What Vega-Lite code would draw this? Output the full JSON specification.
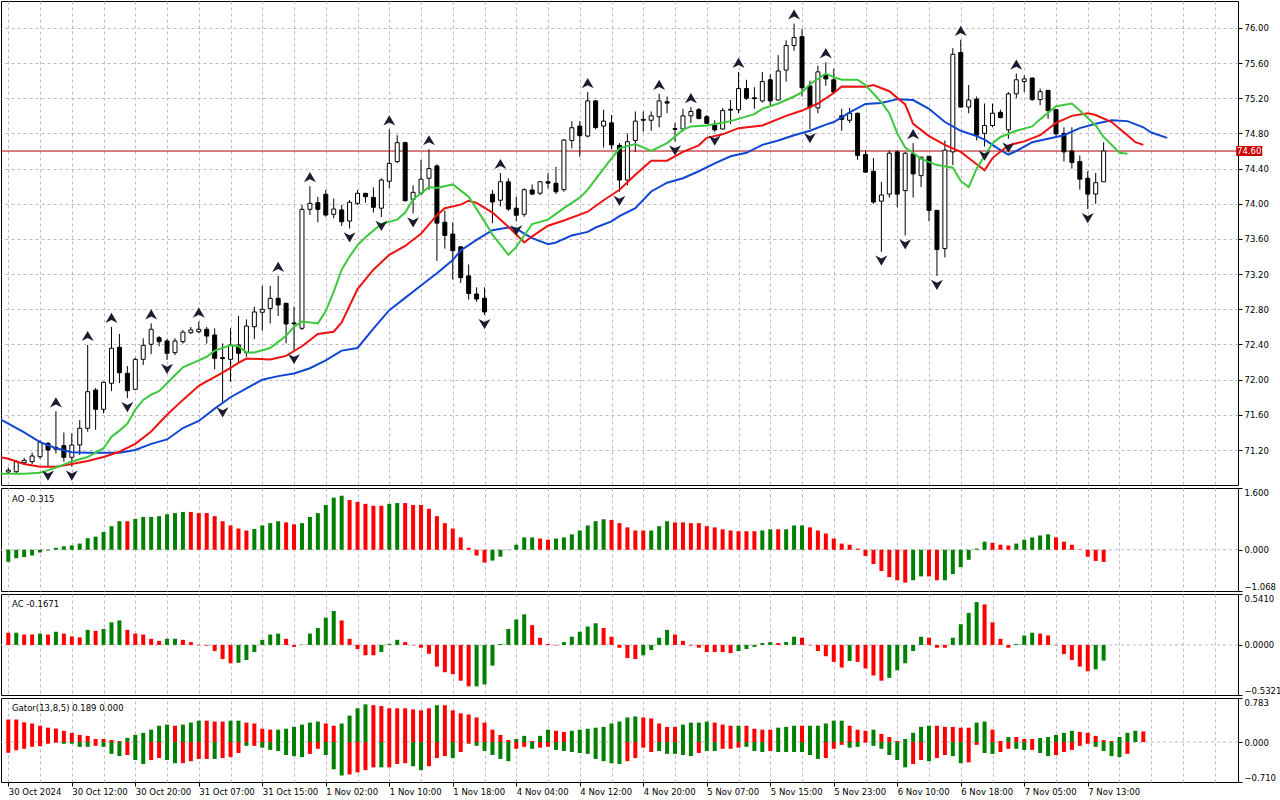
{
  "$schema": "https://vega.github.io/schema/vega-lite/v6.json",
  "padding": {"left": 0, "top": 0, "right": 0, "bottom": 0},
  "background": "white",
  "spacing": 1,
  "resolve": {"scale": {"color": "independent"}},
  "datasets": {
    "bars": [
      {"i":0,"o":70.95,"h":71.0,"l":70.93,"c":70.97},
      {"i":1,"o":70.953,"h":71.086,"l":70.93,"c":71.067},
      {"i":2,"o":71.056,"h":71.11,"l":71.03,"c":71.083},
      {"i":3,"o":71.067,"h":71.17,"l":71.04,"c":71.132},
      {"i":4,"o":71.124,"h":71.31,"l":71.1,"c":71.288},
      {"i":5,"o":71.276,"h":71.29,"l":71.01,"c":71.2,"f":"d"},
      {"i":6,"o":71.23,"h":71.64,"l":71.16,"c":71.21,"f":"u"},
      {"i":7,"o":71.249,"h":71.4,"l":71.067,"c":71.117},
      {"i":8,"o":71.117,"h":71.39,"l":71.01,"c":71.257,"f":"d"},
      {"i":9,"o":71.257,"h":71.54,"l":71.143,"c":71.447},
      {"i":10,"o":71.447,"h":72.394,"l":71.41,"c":71.863,"f":"u"},
      {"i":11,"o":71.882,"h":71.905,"l":71.43,"c":71.663},
      {"i":12,"o":71.663,"h":71.977,"l":71.617,"c":71.97},
      {"i":13,"o":71.959,"h":72.6,"l":71.87,"c":72.357,"f":"u"},
      {"i":14,"o":72.368,"h":72.52,"l":71.96,"c":72.079},
      {"i":15,"o":72.072,"h":72.155,"l":71.79,"c":71.874,"f":"d"},
      {"i":16,"o":71.89,"h":72.25,"l":71.88,"c":72.231},
      {"i":17,"o":72.231,"h":72.47,"l":72.167,"c":72.39},
      {"i":18,"o":72.402,"h":72.64,"l":72.29,"c":72.573,"f":"u"},
      {"i":19,"o":72.477,"h":72.496,"l":72.38,"c":72.432},
      {"i":20,"o":72.44,"h":72.46,"l":72.224,"c":72.3,"f":"d"},
      {"i":21,"o":72.307,"h":72.47,"l":72.28,"c":72.44},
      {"i":22,"o":72.432,"h":72.565,"l":72.41,"c":72.54},
      {"i":23,"o":72.534,"h":72.6,"l":72.52,"c":72.565},
      {"i":24,"o":72.545,"h":72.66,"l":72.53,"c":72.573,"f":"u"},
      {"i":25,"o":72.573,"h":72.6,"l":72.41,"c":72.496},
      {"i":26,"o":72.508,"h":72.584,"l":72.118,"c":72.243},
      {"i":27,"o":72.25,"h":72.413,"l":71.731,"c":72.24,"f":"d"},
      {"i":28,"o":72.231,"h":72.584,"l":71.977,"c":72.394},
      {"i":29,"o":72.394,"h":72.724,"l":72.186,"c":72.3},
      {"i":30,"o":72.307,"h":72.686,"l":72.26,"c":72.61},
      {"i":31,"o":72.602,"h":72.83,"l":72.46,"c":72.77},
      {"i":32,"o":72.766,"h":73.068,"l":72.557,"c":72.8},
      {"i":33,"o":72.81,"h":73.068,"l":72.64,"c":72.925},
      {"i":34,"o":72.925,"h":73.18,"l":72.724,"c":72.849,"f":"u"},
      {"i":35,"o":72.868,"h":72.875,"l":72.413,"c":72.633},
      {"i":36,"o":72.645,"h":72.83,"l":72.337,"c":72.635,"f":"d"},
      {"i":37,"o":72.584,"h":73.986,"l":72.565,"c":73.937},
      {"i":38,"o":73.937,"h":74.2,"l":73.872,"c":74.005,"f":"u"},
      {"i":39,"o":74.012,"h":74.08,"l":73.79,"c":73.937},
      {"i":40,"o":74.108,"h":74.157,"l":73.853,"c":73.872},
      {"i":41,"o":73.88,"h":74.06,"l":73.835,"c":73.94},
      {"i":42,"o":73.93,"h":73.986,"l":73.747,"c":73.796},
      {"i":43,"o":73.804,"h":74.043,"l":73.72,"c":74.017,"f":"d"},
      {"i":44,"o":74.005,"h":74.157,"l":73.986,"c":74.119},
      {"i":45,"o":74.119,"h":74.12,"l":74.012,"c":74.08},
      {"i":46,"o":74.073,"h":74.187,"l":73.9,"c":73.96},
      {"i":47,"o":73.95,"h":74.29,"l":73.85,"c":74.27,"f":"d"},
      {"i":48,"o":74.256,"h":74.847,"l":74.18,"c":74.46,"f":"u"},
      {"i":49,"o":74.48,"h":74.78,"l":74.46,"c":74.695},
      {"i":50,"o":74.695,"h":74.706,"l":74.024,"c":74.035},
      {"i":51,"o":74.05,"h":74.21,"l":73.89,"c":74.13,"f":"d"},
      {"i":52,"o":74.12,"h":74.5,"l":74.1,"c":74.28},
      {"i":53,"o":74.29,"h":74.62,"l":74.157,"c":74.4,"f":"u"},
      {"i":54,"o":74.43,"h":74.45,"l":73.35,"c":73.78},
      {"i":55,"o":73.79,"h":73.92,"l":73.49,"c":73.64},
      {"i":56,"o":73.656,"h":73.79,"l":73.14,"c":73.466},
      {"i":57,"o":73.51,"h":73.52,"l":73.1,"c":73.16},
      {"i":58,"o":73.18,"h":73.31,"l":72.91,"c":72.98},
      {"i":59,"o":72.974,"h":73.05,"l":72.886,"c":72.917},
      {"i":60,"o":72.925,"h":73.05,"l":72.735,"c":72.77,"f":"d"},
      {"i":61,"o":74.108,"h":74.157,"l":73.78,"c":74.02},
      {"i":62,"o":74.04,"h":74.35,"l":73.97,"c":74.25,"f":"u"},
      {"i":63,"o":74.25,"h":74.29,"l":73.92,"c":73.94},
      {"i":64,"o":73.95,"h":74.08,"l":73.8,"c":73.87,"f":"d"},
      {"i":65,"o":73.88,"h":74.176,"l":73.853,"c":74.16},
      {"i":66,"o":74.157,"h":74.22,"l":74.1,"c":74.11},
      {"i":67,"o":74.12,"h":74.26,"l":74.1,"c":74.25},
      {"i":68,"o":74.25,"h":74.35,"l":74.175,"c":74.235},
      {"i":69,"o":74.233,"h":74.42,"l":74.11,"c":74.137},
      {"i":70,"o":74.16,"h":74.736,"l":74.137,"c":74.725},
      {"i":71,"o":74.72,"h":74.94,"l":74.63,"c":74.865},
      {"i":72,"o":74.884,"h":74.94,"l":74.535,"c":74.774},
      {"i":73,"o":74.77,"h":75.27,"l":74.755,"c":75.17,"f":"u"},
      {"i":74,"o":75.17,"h":75.18,"l":74.847,"c":74.867},
      {"i":75,"o":74.884,"h":75.07,"l":74.64,"c":74.94},
      {"i":76,"o":74.92,"h":75.01,"l":74.62,"c":74.67},
      {"i":77,"o":74.665,"h":74.69,"l":74.137,"c":74.27,"f":"d"},
      {"i":78,"o":74.27,"h":74.8,"l":74.21,"c":74.706},
      {"i":79,"o":74.72,"h":75.05,"l":74.59,"c":74.94},
      {"i":80,"o":74.96,"h":75.05,"l":74.82,"c":74.95},
      {"i":81,"o":74.95,"h":75.05,"l":74.83,"c":75.0},
      {"i":82,"o":74.99,"h":75.25,"l":74.87,"c":75.17,"f":"u"},
      {"i":83,"o":75.16,"h":75.22,"l":75.03,"c":75.145},
      {"i":84,"o":74.855,"h":74.92,"l":74.71,"c":74.845,"f":"d"},
      {"i":85,"o":74.85,"h":75.08,"l":74.82,"c":75.0},
      {"i":86,"o":75.0,"h":75.1,"l":74.92,"c":75.05,"f":"u"},
      {"i":87,"o":75.07,"h":75.09,"l":74.96,"c":74.97},
      {"i":88,"o":74.99,"h":75.01,"l":74.905,"c":74.915},
      {"i":89,"o":74.895,"h":74.95,"l":74.82,"c":74.84,"f":"d"},
      {"i":90,"o":74.85,"h":75.09,"l":74.845,"c":75.06},
      {"i":91,"o":75.075,"h":75.18,"l":74.905,"c":75.065},
      {"i":92,"o":75.07,"h":75.5,"l":75.03,"c":75.31,"f":"u"},
      {"i":93,"o":75.31,"h":75.41,"l":75.18,"c":75.2},
      {"i":94,"o":75.205,"h":75.325,"l":75.08,"c":75.195},
      {"i":95,"o":75.17,"h":75.5,"l":75.15,"c":75.39},
      {"i":96,"o":75.41,"h":75.47,"l":75.12,"c":75.17},
      {"i":97,"o":75.18,"h":75.69,"l":75.175,"c":75.51},
      {"i":98,"o":75.52,"h":75.86,"l":75.39,"c":75.8},
      {"i":99,"o":75.8,"h":76.05,"l":75.74,"c":75.89,"f":"u"},
      {"i":100,"o":75.9,"h":75.99,"l":75.22,"c":75.32},
      {"i":101,"o":75.34,"h":75.4,"l":74.85,"c":75.1,"f":"d"},
      {"i":102,"o":75.09,"h":75.57,"l":75.03,"c":75.5},
      {"i":103,"o":75.465,"h":75.61,"l":75.34,"c":75.42,"f":"u"},
      {"i":104,"o":75.41,"h":75.535,"l":75.25,"c":75.27},
      {"i":105,"o":75.0,"h":75.08,"l":74.83,"c":74.96},
      {"i":106,"o":74.95,"h":75.09,"l":74.92,"c":75.03},
      {"i":107,"o":75.03,"h":75.035,"l":74.5,"c":74.55},
      {"i":108,"o":74.56,"h":74.61,"l":74.355,"c":74.36},
      {"i":109,"o":74.37,"h":74.52,"l":74.0,"c":74.02},
      {"i":110,"o":74.03,"h":74.25,"l":73.455,"c":74.1,"f":"d"},
      {"i":111,"o":74.11,"h":74.61,"l":74.07,"c":74.575},
      {"i":112,"o":74.59,"h":74.61,"l":73.96,"c":74.11},
      {"i":113,"o":74.15,"h":74.59,"l":73.64,"c":74.575,"f":"d"},
      {"i":114,"o":74.567,"h":74.69,"l":74.07,"c":74.34,"f":"u"},
      {"i":115,"o":74.32,"h":74.535,"l":74.19,"c":74.53},
      {"i":116,"o":74.54,"h":74.545,"l":73.8,"c":73.925},
      {"i":117,"o":73.925,"h":73.93,"l":73.18,"c":73.48,"f":"d"},
      {"i":118,"o":73.49,"h":74.72,"l":73.39,"c":74.61},
      {"i":119,"o":74.59,"h":75.77,"l":74.44,"c":75.7},
      {"i":120,"o":75.72,"h":75.865,"l":75.095,"c":75.1,"f":"u"},
      {"i":121,"o":75.1,"h":75.35,"l":75.03,"c":75.18},
      {"i":122,"o":75.19,"h":75.22,"l":74.72,"c":74.78},
      {"i":123,"o":74.8,"h":75.14,"l":74.65,"c":74.89,"f":"d"},
      {"i":124,"o":74.89,"h":75.14,"l":74.87,"c":75.03},
      {"i":125,"o":75.04,"h":75.07,"l":74.97,"c":74.98},
      {"i":126,"o":74.84,"h":75.27,"l":74.74,"c":75.25,"f":"d"},
      {"i":127,"o":75.25,"h":75.48,"l":75.2,"c":75.41,"f":"u"},
      {"i":128,"o":75.39,"h":75.46,"l":75.27,"c":75.42},
      {"i":129,"o":75.43,"h":75.435,"l":75.17,"c":75.185},
      {"i":130,"o":75.185,"h":75.31,"l":75.12,"c":75.275},
      {"i":131,"o":75.29,"h":75.295,"l":74.965,"c":75.06},
      {"i":132,"o":75.07,"h":75.08,"l":74.775,"c":74.795},
      {"i":133,"o":74.8,"h":74.87,"l":74.48,"c":74.59},
      {"i":134,"o":74.6,"h":74.87,"l":74.4,"c":74.47},
      {"i":135,"o":74.48,"h":74.55,"l":74.16,"c":74.28},
      {"i":136,"o":74.29,"h":74.37,"l":73.94,"c":74.11,"f":"d"},
      {"i":137,"o":74.11,"h":74.35,"l":74.0,"c":74.24},
      {"i":138,"o":74.25,"h":74.7,"l":74.25,"c":74.6}
    ],
    "lines": [
      {"s":"jaw","i":-1,"v":71.55},{"s":"jaw","i":0,"v":71.5},{"s":"jaw","i":2,"v":71.4},{"s":"jaw","i":4,"v":71.29},
      {"s":"jaw","i":6,"v":71.22},{"s":"jaw","i":8,"v":71.175},{"s":"jaw","i":10,"v":71.17},{"s":"jaw","i":12,"v":71.17},
      {"s":"jaw","i":14,"v":71.17},{"s":"jaw","i":16,"v":71.2},{"s":"jaw","i":18,"v":71.27},{"s":"jaw","i":20,"v":71.32},
      {"s":"jaw","i":22,"v":71.45},{"s":"jaw","i":24,"v":71.53},{"s":"jaw","i":26,"v":71.67},{"s":"jaw","i":28,"v":71.8},
      {"s":"jaw","i":30,"v":71.9},{"s":"jaw","i":32,"v":72.0},{"s":"jaw","i":34,"v":72.04},{"s":"jaw","i":36,"v":72.07},
      {"s":"jaw","i":38,"v":72.13},{"s":"jaw","i":40,"v":72.22},{"s":"jaw","i":42,"v":72.33},{"s":"jaw","i":44,"v":72.36},
      {"s":"jaw","i":46,"v":72.58},{"s":"jaw","i":48,"v":72.79},{"s":"jaw","i":50,"v":72.93},{"s":"jaw","i":52,"v":73.07},
      {"s":"jaw","i":54,"v":73.21},{"s":"jaw","i":56,"v":73.36},{"s":"jaw","i":57,"v":73.47},{"s":"jaw","i":59,"v":73.59},
      {"s":"jaw","i":61,"v":73.7},{"s":"jaw","i":63,"v":73.73},{"s":"jaw","i":64,"v":73.72},{"s":"jaw","i":65,"v":73.66},
      {"s":"jaw","i":66,"v":73.61},{"s":"jaw","i":68,"v":73.54},{"s":"jaw","i":69,"v":73.56},{"s":"jaw","i":71,"v":73.64},
      {"s":"jaw","i":73,"v":73.68},{"s":"jaw","i":74,"v":73.73},{"s":"jaw","i":76,"v":73.8},{"s":"jaw","i":77,"v":73.86},
      {"s":"jaw","i":79,"v":73.95},{"s":"jaw","i":81,"v":74.14},{"s":"jaw","i":83,"v":74.24},{"s":"jaw","i":85,"v":74.29},
      {"s":"jaw","i":87,"v":74.37},{"s":"jaw","i":89,"v":74.46},{"s":"jaw","i":91,"v":74.54},{"s":"jaw","i":93,"v":74.58},
      {"s":"jaw","i":95,"v":74.67},{"s":"jaw","i":97,"v":74.72},{"s":"jaw","i":99,"v":74.78},{"s":"jaw","i":101,"v":74.83},
      {"s":"jaw","i":103,"v":74.9},{"s":"jaw","i":104,"v":74.93},{"s":"jaw","i":106,"v":75.04},{"s":"jaw","i":108,"v":75.135},
      {"s":"jaw","i":110,"v":75.145},{"s":"jaw","i":112,"v":75.19},{"s":"jaw","i":114,"v":75.18},{"s":"jaw","i":116,"v":75.08},
      {"s":"jaw","i":118,"v":74.93},{"s":"jaw","i":120,"v":74.83},{"s":"jaw","i":122,"v":74.77},{"s":"jaw","i":123,"v":74.73},
      {"s":"jaw","i":125,"v":74.61},{"s":"jaw","i":126,"v":74.56},{"s":"jaw","i":127,"v":74.6},{"s":"jaw","i":129,"v":74.7},
      {"s":"jaw","i":131,"v":74.74},{"s":"jaw","i":133,"v":74.78},{"s":"jaw","i":135,"v":74.86},{"s":"jaw","i":137,"v":74.91},
      {"s":"jaw","i":139,"v":74.95},{"s":"jaw","i":141,"v":74.94},{"s":"jaw","i":143,"v":74.87},{"s":"jaw","i":144,"v":74.81},
      {"s":"jaw","i":146,"v":74.75},
      {"s":"teeth","i":-1,"v":71.12},{"s":"teeth","i":0,"v":71.1},{"s":"teeth","i":2,"v":71.04},{"s":"teeth","i":4,"v":71.01},
      {"s":"teeth","i":6,"v":71.01},{"s":"teeth","i":8,"v":71.04},{"s":"teeth","i":10,"v":71.075},{"s":"teeth","i":12,"v":71.12},
      {"s":"teeth","i":14,"v":71.18},{"s":"teeth","i":16,"v":71.27},{"s":"teeth","i":18,"v":71.41},{"s":"teeth","i":20,"v":71.6},
      {"s":"teeth","i":22,"v":71.77},{"s":"teeth","i":24,"v":71.93},{"s":"teeth","i":25,"v":71.98},{"s":"teeth","i":27,"v":72.08},
      {"s":"teeth","i":29,"v":72.19},{"s":"teeth","i":30,"v":72.24},{"s":"teeth","i":33,"v":72.23},{"s":"teeth","i":35,"v":72.27},
      {"s":"teeth","i":37,"v":72.38},{"s":"teeth","i":39,"v":72.52},{"s":"teeth","i":41,"v":72.545},{"s":"teeth","i":42,"v":72.65},
      {"s":"teeth","i":44,"v":73.03},{"s":"teeth","i":46,"v":73.25},{"s":"teeth","i":48,"v":73.42},{"s":"teeth","i":50,"v":73.52},
      {"s":"teeth","i":51,"v":73.59},{"s":"teeth","i":52,"v":73.66},{"s":"teeth","i":54,"v":73.87},{"s":"teeth","i":55,"v":73.95},
      {"s":"teeth","i":57,"v":73.99},{"s":"teeth","i":58,"v":74.035},{"s":"teeth","i":59,"v":74.01},{"s":"teeth","i":61,"v":73.9},
      {"s":"teeth","i":63,"v":73.74},{"s":"teeth","i":65,"v":73.56},{"s":"teeth","i":66,"v":73.63},{"s":"teeth","i":68,"v":73.75},
      {"s":"teeth","i":70,"v":73.81},{"s":"teeth","i":73,"v":73.91},{"s":"teeth","i":75,"v":74.04},{"s":"teeth","i":77,"v":74.16},
      {"s":"teeth","i":79,"v":74.33},{"s":"teeth","i":81,"v":74.49},{"s":"teeth","i":83,"v":74.49},{"s":"teeth","i":85,"v":74.59},
      {"s":"teeth","i":87,"v":74.665},{"s":"teeth","i":88,"v":74.75},{"s":"teeth","i":90,"v":74.79},{"s":"teeth","i":92,"v":74.86},
      {"s":"teeth","i":95,"v":74.89},{"s":"teeth","i":98,"v":75.0},{"s":"teeth","i":100,"v":75.06},{"s":"teeth","i":102,"v":75.14},
      {"s":"teeth","i":104,"v":75.26},{"s":"teeth","i":105,"v":75.335},{"s":"teeth","i":108,"v":75.33},{"s":"teeth","i":109,"v":75.35},
      {"s":"teeth","i":111,"v":75.28},{"s":"teeth","i":113,"v":75.13},{"s":"teeth","i":114,"v":74.91},{"s":"teeth","i":116,"v":74.77},
      {"s":"teeth","i":118,"v":74.67},{"s":"teeth","i":120,"v":74.59},{"s":"teeth","i":122,"v":74.45},{"s":"teeth","i":123,"v":74.38},
      {"s":"teeth","i":124,"v":74.52},{"s":"teeth","i":126,"v":74.665},{"s":"teeth","i":128,"v":74.71},{"s":"teeth","i":130,"v":74.78},
      {"s":"teeth","i":132,"v":74.92},{"s":"teeth","i":134,"v":75.0},{"s":"teeth","i":136,"v":75.03},{"s":"teeth","i":137,"v":75.01},
      {"s":"teeth","i":139,"v":74.93},{"s":"teeth","i":141,"v":74.78},{"s":"teeth","i":142,"v":74.7},{"s":"teeth","i":143,"v":74.67},
      {"s":"lips","i":-1,"v":70.93},{"s":"lips","i":0,"v":70.93},{"s":"lips","i":2,"v":70.93},{"s":"lips","i":4,"v":70.94},
      {"s":"lips","i":6,"v":71.0},{"s":"lips","i":8,"v":71.07},{"s":"lips","i":10,"v":71.12},{"s":"lips","i":12,"v":71.22},
      {"s":"lips","i":13,"v":71.35},{"s":"lips","i":14,"v":71.42},{"s":"lips","i":15,"v":71.5},{"s":"lips","i":16,"v":71.66},
      {"s":"lips","i":17,"v":71.77},{"s":"lips","i":18,"v":71.83},{"s":"lips","i":19,"v":71.87},{"s":"lips","i":20,"v":71.96},
      {"s":"lips","i":21,"v":72.05},{"s":"lips","i":22,"v":72.14},{"s":"lips","i":24,"v":72.22},{"s":"lips","i":25,"v":72.26},
      {"s":"lips","i":26,"v":72.33},{"s":"lips","i":28,"v":72.39},{"s":"lips","i":29,"v":72.38},{"s":"lips","i":30,"v":72.31},
      {"s":"lips","i":31,"v":72.31},{"s":"lips","i":33,"v":72.36},{"s":"lips","i":35,"v":72.5},{"s":"lips","i":36,"v":72.6},
      {"s":"lips","i":37,"v":72.66},{"s":"lips","i":39,"v":72.64},{"s":"lips","i":40,"v":72.78},{"s":"lips","i":41,"v":73.0},
      {"s":"lips","i":42,"v":73.25},{"s":"lips","i":43,"v":73.4},{"s":"lips","i":44,"v":73.53},{"s":"lips","i":45,"v":73.62},
      {"s":"lips","i":47,"v":73.77},{"s":"lips","i":49,"v":73.82},{"s":"lips","i":50,"v":73.9},{"s":"lips","i":51,"v":74.05},
      {"s":"lips","i":53,"v":74.19},{"s":"lips","i":54,"v":74.18},{"s":"lips","i":56,"v":74.22},{"s":"lips","i":58,"v":74.08},
      {"s":"lips","i":60,"v":73.8},{"s":"lips","i":61,"v":73.65},{"s":"lips","i":63,"v":73.42},{"s":"lips","i":64,"v":73.51},
      {"s":"lips","i":66,"v":73.77},{"s":"lips","i":68,"v":73.82},{"s":"lips","i":70,"v":73.95},{"s":"lips","i":72,"v":74.07},
      {"s":"lips","i":73,"v":74.16},{"s":"lips","i":74,"v":74.28},{"s":"lips","i":75,"v":74.4},{"s":"lips","i":77,"v":74.63},
      {"s":"lips","i":79,"v":74.68},{"s":"lips","i":81,"v":74.6},{"s":"lips","i":83,"v":74.69},{"s":"lips","i":85,"v":74.84},
      {"s":"lips","i":86,"v":74.88},{"s":"lips","i":88,"v":74.89},{"s":"lips","i":91,"v":74.94},{"s":"lips","i":94,"v":75.02},
      {"s":"lips","i":95,"v":75.08},{"s":"lips","i":97,"v":75.14},{"s":"lips","i":99,"v":75.22},{"s":"lips","i":100,"v":75.27},
      {"s":"lips","i":101,"v":75.36},{"s":"lips","i":103,"v":75.48},{"s":"lips","i":104,"v":75.44},{"s":"lips","i":105,"v":75.41},
      {"s":"lips","i":107,"v":75.41},{"s":"lips","i":108,"v":75.35},{"s":"lips","i":110,"v":75.155},{"s":"lips","i":111,"v":75.03},
      {"s":"lips","i":112,"v":74.8},{"s":"lips","i":113,"v":74.64},{"s":"lips","i":114,"v":74.58},{"s":"lips","i":115,"v":74.51},
      {"s":"lips","i":117,"v":74.44},{"s":"lips","i":119,"v":74.41},{"s":"lips","i":120,"v":74.26},{"s":"lips","i":121,"v":74.19},
      {"s":"lips","i":122,"v":74.4},{"s":"lips","i":124,"v":74.69},{"s":"lips","i":125,"v":74.76},{"s":"lips","i":127,"v":74.83},
      {"s":"lips","i":129,"v":74.88},{"s":"lips","i":130,"v":74.96},{"s":"lips","i":132,"v":75.11},{"s":"lips","i":134,"v":75.14},
      {"s":"lips","i":135,"v":75.06},{"s":"lips","i":137,"v":74.89},{"s":"lips","i":138,"v":74.76},{"s":"lips","i":140,"v":74.58},
      {"s":"lips","i":141,"v":74.57}
    ],
    "ao": [
      {"i":0,"v":-0.31,"c":"g"},{"i":1,"v":-0.22,"c":"g"},{"i":2,"v":-0.19,"c":"g"},{"i":3,"v":-0.15,"c":"g"},
      {"i":4,"v":-0.07,"c":"g"},{"i":5,"v":-0.02,"c":"g"},{"i":6,"v":0.05,"c":"g"},{"i":7,"v":0.09,"c":"g"},
      {"i":8,"v":0.11,"c":"g"},{"i":9,"v":0.16,"c":"g"},{"i":10,"v":0.3,"c":"g"},{"i":11,"v":0.34,"c":"g"},
      {"i":12,"v":0.46,"c":"g"},{"i":13,"v":0.61,"c":"g"},{"i":14,"v":0.74,"c":"g"},{"i":15,"v":0.74,"c":"r"},
      {"i":16,"v":0.8,"c":"g"},{"i":17,"v":0.85,"c":"g"},{"i":18,"v":0.85,"c":"g"},{"i":19,"v":0.87,"c":"g"},
      {"i":20,"v":0.92,"c":"g"},{"i":21,"v":0.95,"c":"g"},{"i":22,"v":0.98,"c":"g"},{"i":23,"v":0.98,"c":"r"},
      {"i":24,"v":0.95,"c":"r"},{"i":25,"v":0.95,"c":"r"},{"i":26,"v":0.87,"c":"r"},{"i":27,"v":0.74,"c":"r"},
      {"i":28,"v":0.63,"c":"r"},{"i":29,"v":0.55,"c":"r"},{"i":30,"v":0.5,"c":"r"},{"i":31,"v":0.54,"c":"g"},
      {"i":32,"v":0.63,"c":"g"},{"i":33,"v":0.69,"c":"g"},{"i":34,"v":0.74,"c":"g"},{"i":35,"v":0.71,"c":"r"},
      {"i":36,"v":0.66,"c":"r"},{"i":37,"v":0.69,"c":"g"},{"i":38,"v":0.85,"c":"g"},{"i":39,"v":0.95,"c":"g"},
      {"i":40,"v":1.16,"c":"g"},{"i":41,"v":1.35,"c":"g"},{"i":42,"v":1.4,"c":"g"},{"i":43,"v":1.29,"c":"r"},
      {"i":44,"v":1.24,"c":"r"},{"i":45,"v":1.19,"c":"r"},{"i":46,"v":1.14,"c":"r"},{"i":47,"v":1.14,"c":"r"},
      {"i":48,"v":1.19,"c":"g"},{"i":49,"v":1.21,"c":"g"},{"i":50,"v":1.21,"c":"r"},{"i":51,"v":1.16,"c":"r"},
      {"i":52,"v":1.16,"c":"r"},{"i":53,"v":1.06,"c":"r"},{"i":54,"v":0.87,"c":"r"},{"i":55,"v":0.69,"c":"r"},
      {"i":56,"v":0.55,"c":"r"},{"i":57,"v":0.32,"c":"r"},{"i":58,"v":0.05,"c":"r"},{"i":59,"v":-0.15,"c":"r"},
      {"i":60,"v":-0.33,"c":"r"},{"i":61,"v":-0.28,"c":"g"},{"i":62,"v":-0.18,"c":"g"},{"i":63,"v":-0.01,"c":"g"},
      {"i":64,"v":0.13,"c":"g"},{"i":65,"v":0.32,"c":"g"},{"i":66,"v":0.32,"c":"g"},{"i":67,"v":0.29,"c":"r"},
      {"i":68,"v":0.26,"c":"r"},{"i":69,"v":0.29,"c":"g"},{"i":70,"v":0.32,"c":"g"},{"i":71,"v":0.4,"c":"g"},
      {"i":72,"v":0.5,"c":"g"},{"i":73,"v":0.63,"c":"g"},{"i":74,"v":0.74,"c":"g"},{"i":75,"v":0.79,"c":"g"},
      {"i":76,"v":0.77,"c":"r"},{"i":77,"v":0.69,"c":"r"},{"i":78,"v":0.58,"c":"r"},{"i":79,"v":0.5,"c":"r"},
      {"i":80,"v":0.5,"c":"r"},{"i":81,"v":0.5,"c":"g"},{"i":82,"v":0.61,"c":"g"},{"i":83,"v":0.74,"c":"g"},
      {"i":84,"v":0.71,"c":"r"},{"i":85,"v":0.71,"c":"r"},{"i":86,"v":0.69,"c":"r"},{"i":87,"v":0.69,"c":"r"},
      {"i":88,"v":0.61,"c":"r"},{"i":89,"v":0.58,"c":"r"},{"i":90,"v":0.53,"c":"r"},{"i":91,"v":0.5,"c":"r"},
      {"i":92,"v":0.48,"c":"r"},{"i":93,"v":0.48,"c":"r"},{"i":94,"v":0.48,"c":"r"},{"i":95,"v":0.5,"c":"g"},
      {"i":96,"v":0.53,"c":"g"},{"i":97,"v":0.53,"c":"r"},{"i":98,"v":0.53,"c":"g"},{"i":99,"v":0.63,"c":"g"},
      {"i":100,"v":0.63,"c":"g"},{"i":101,"v":0.58,"c":"r"},{"i":102,"v":0.5,"c":"r"},{"i":103,"v":0.42,"c":"r"},
      {"i":104,"v":0.29,"c":"r"},{"i":105,"v":0.16,"c":"r"},{"i":106,"v":0.13,"c":"r"},{"i":107,"v":0.03,"c":"r"},
      {"i":108,"v":-0.16,"c":"r"},{"i":109,"v":-0.37,"c":"r"},{"i":110,"v":-0.55,"c":"r"},{"i":111,"v":-0.71,"c":"r"},
      {"i":112,"v":-0.79,"c":"r"},{"i":113,"v":-0.85,"c":"r"},{"i":114,"v":-0.79,"c":"g"},{"i":115,"v":-0.69,"c":"g"},
      {"i":116,"v":-0.69,"c":"r"},{"i":117,"v":-0.79,"c":"r"},{"i":118,"v":-0.79,"c":"g"},{"i":119,"v":-0.63,"c":"g"},
      {"i":120,"v":-0.45,"c":"g"},{"i":121,"v":-0.26,"c":"g"},{"i":122,"v":0.03,"c":"g"},{"i":123,"v":0.21,"c":"g"},
      {"i":124,"v":0.18,"c":"r"},{"i":125,"v":0.13,"c":"r"},{"i":126,"v":0.11,"c":"r"},{"i":127,"v":0.16,"c":"g"},
      {"i":128,"v":0.26,"c":"g"},{"i":129,"v":0.32,"c":"g"},{"i":130,"v":0.37,"c":"g"},{"i":131,"v":0.4,"c":"g"},
      {"i":132,"v":0.32,"c":"r"},{"i":133,"v":0.21,"c":"r"},{"i":134,"v":0.13,"c":"r"},{"i":135,"v":0.01,"c":"r"},
      {"i":136,"v":-0.18,"c":"r"},{"i":137,"v":-0.29,"c":"r"},{"i":138,"v":-0.315,"c":"r"}
    ],
    "ac": [
      {"i":0,"v":0.13,"c":"r"},{"i":1,"v":0.13,"c":"g"},{"i":2,"v":0.11,"c":"r"},{"i":3,"v":0.11,"c":"r"},
      {"i":4,"v":0.12,"c":"g"},{"i":5,"v":0.11,"c":"r"},{"i":6,"v":0.14,"c":"g"},{"i":7,"v":0.12,"c":"r"},
      {"i":8,"v":0.09,"c":"r"},{"i":9,"v":0.08,"c":"r"},{"i":10,"v":0.16,"c":"g"},{"i":11,"v":0.15,"c":"r"},
      {"i":12,"v":0.17,"c":"g"},{"i":13,"v":0.24,"c":"g"},{"i":14,"v":0.26,"c":"g"},{"i":15,"v":0.16,"c":"r"},
      {"i":16,"v":0.12,"c":"r"},{"i":17,"v":0.11,"c":"r"},{"i":18,"v":0.065,"c":"r"},{"i":19,"v":0.043,"c":"r"},
      {"i":20,"v":0.065,"c":"g"},{"i":21,"v":0.065,"c":"g"},{"i":22,"v":0.054,"c":"r"},{"i":23,"v":0.03,"c":"r"},
      {"i":24,"v":-0.005,"c":"r"},{"i":25,"v":-0.008,"c":"r"},{"i":26,"v":-0.065,"c":"r"},{"i":27,"v":-0.15,"c":"r"},
      {"i":28,"v":-0.195,"c":"r"},{"i":29,"v":-0.19,"c":"g"},{"i":30,"v":-0.16,"c":"g"},{"i":31,"v":-0.076,"c":"g"},
      {"i":32,"v":0.054,"c":"g"},{"i":33,"v":0.11,"c":"g"},{"i":34,"v":0.12,"c":"g"},{"i":35,"v":0.065,"c":"r"},
      {"i":36,"v":-0.02,"c":"r"},{"i":37,"v":0.003,"c":"g"},{"i":38,"v":0.12,"c":"g"},{"i":39,"v":0.18,"c":"g"},
      {"i":40,"v":0.29,"c":"g"},{"i":41,"v":0.36,"c":"g"},{"i":42,"v":0.26,"c":"r"},{"i":43,"v":0.065,"c":"r"},
      {"i":44,"v":-0.043,"c":"r"},{"i":45,"v":-0.11,"c":"r"},{"i":46,"v":-0.11,"c":"r"},{"i":47,"v":-0.076,"c":"g"},
      {"i":48,"v":0.01,"c":"g"},{"i":49,"v":0.054,"c":"g"},{"i":50,"v":0.03,"c":"r"},{"i":51,"v":-0.004,"c":"r"},
      {"i":52,"v":-0.03,"c":"r"},{"i":53,"v":-0.094,"c":"r"},{"i":54,"v":-0.23,"c":"r"},{"i":55,"v":-0.29,"c":"r"},
      {"i":56,"v":-0.31,"c":"r"},{"i":57,"v":-0.38,"c":"r"},{"i":58,"v":-0.44,"c":"r"},{"i":59,"v":-0.44,"c":"g"},
      {"i":60,"v":-0.42,"c":"g"},{"i":61,"v":-0.22,"c":"g"},{"i":62,"v":0.01,"c":"g"},{"i":63,"v":0.17,"c":"g"},
      {"i":64,"v":0.27,"c":"g"},{"i":65,"v":0.325,"c":"g"},{"i":66,"v":0.21,"c":"r"},{"i":67,"v":0.076,"c":"r"},
      {"i":68,"v":0.01,"c":"r"},{"i":69,"v":-0.005,"c":"r"},{"i":70,"v":0.03,"c":"g"},{"i":71,"v":0.087,"c":"g"},
      {"i":72,"v":0.14,"c":"g"},{"i":73,"v":0.195,"c":"g"},{"i":74,"v":0.23,"c":"g"},{"i":75,"v":0.18,"c":"r"},
      {"i":76,"v":0.087,"c":"r"},{"i":77,"v":-0.03,"c":"r"},{"i":78,"v":-0.14,"c":"r"},{"i":79,"v":-0.15,"c":"r"},
      {"i":80,"v":-0.11,"c":"g"},{"i":81,"v":-0.054,"c":"g"},{"i":82,"v":0.076,"c":"g"},{"i":83,"v":0.16,"c":"g"},
      {"i":84,"v":0.11,"c":"r"},{"i":85,"v":0.043,"c":"r"},{"i":86,"v":-0.007,"c":"r"},{"i":87,"v":-0.03,"c":"r"},
      {"i":88,"v":-0.076,"c":"r"},{"i":89,"v":-0.076,"c":"r"},{"i":90,"v":-0.076,"c":"r"},{"i":91,"v":-0.087,"c":"r"},
      {"i":92,"v":-0.065,"c":"g"},{"i":93,"v":-0.043,"c":"g"},{"i":94,"v":-0.02,"c":"g"},{"i":95,"v":0.02,"c":"g"},
      {"i":96,"v":0.03,"c":"g"},{"i":97,"v":0.02,"c":"r"},{"i":98,"v":0.03,"c":"g"},{"i":99,"v":0.087,"c":"g"},
      {"i":100,"v":0.076,"c":"r"},{"i":101,"v":-0.004,"c":"r"},{"i":102,"v":-0.065,"c":"r"},{"i":103,"v":-0.12,"c":"r"},
      {"i":104,"v":-0.18,"c":"r"},{"i":105,"v":-0.24,"c":"r"},{"i":106,"v":-0.17,"c":"g"},{"i":107,"v":-0.18,"c":"r"},
      {"i":108,"v":-0.25,"c":"r"},{"i":109,"v":-0.325,"c":"r"},{"i":110,"v":-0.38,"c":"r"},{"i":111,"v":-0.35,"c":"g"},
      {"i":112,"v":-0.27,"c":"g"},{"i":113,"v":-0.195,"c":"g"},{"i":114,"v":-0.065,"c":"g"},{"i":115,"v":0.087,"c":"g"},
      {"i":116,"v":0.076,"c":"r"},{"i":117,"v":-0.03,"c":"r"},{"i":118,"v":-0.03,"c":"r"},{"i":119,"v":0.076,"c":"g"},
      {"i":120,"v":0.22,"c":"g"},{"i":121,"v":0.34,"c":"g"},{"i":122,"v":0.455,"c":"g"},{"i":123,"v":0.43,"c":"r"},
      {"i":124,"v":0.24,"c":"r"},{"i":125,"v":0.065,"c":"r"},{"i":126,"v":-0.03,"c":"r"},{"i":127,"v":0.01,"c":"g"},
      {"i":128,"v":0.1,"c":"g"},{"i":129,"v":0.13,"c":"g"},{"i":130,"v":0.12,"c":"r"},{"i":131,"v":0.1,"c":"r"},
      {"i":132,"v":-0.004,"c":"r"},{"i":133,"v":-0.098,"c":"r"},{"i":134,"v":-0.16,"c":"r"},{"i":135,"v":-0.23,"c":"r"},
      {"i":136,"v":-0.28,"c":"r"},{"i":137,"v":-0.26,"c":"g"},{"i":138,"v":-0.167,"c":"g"}
    ],
    "gator": [
      {"i":0,"u":0.4,"uc":"r","d":-0.19,"dc":"r"},{"i":1,"u":0.4,"uc":"r","d":-0.146,"dc":"r"},
      {"i":2,"u":0.35,"uc":"r","d":-0.12,"dc":"r"},{"i":3,"u":0.33,"uc":"r","d":-0.085,"dc":"r"},
      {"i":4,"u":0.29,"uc":"r","d":-0.073,"dc":"r"},{"i":5,"u":0.255,"uc":"r","d":-0.03,"dc":"r"},
      {"i":6,"u":0.24,"uc":"r","d":-0.012,"dc":"r"},{"i":7,"u":0.2,"uc":"r","d":-0.03,"dc":"g"},
      {"i":8,"u":0.164,"uc":"r","d":-0.03,"dc":"g"},{"i":9,"u":0.127,"uc":"r","d":-0.085,"dc":"g"},
      {"i":10,"u":0.11,"uc":"r","d":-0.085,"dc":"g"},{"i":11,"u":0.055,"uc":"r","d":-0.067,"dc":"r"},
      {"i":12,"u":0.055,"uc":"r","d":-0.085,"dc":"g"},{"i":13,"u":0.036,"uc":"r","d":-0.21,"dc":"g"},
      {"i":14,"u":0.018,"uc":"r","d":-0.25,"dc":"g"},{"i":15,"u":0.073,"uc":"g","d":-0.23,"dc":"r"},
      {"i":16,"u":0.127,"uc":"g","d":-0.32,"dc":"g"},{"i":17,"u":0.164,"uc":"g","d":-0.39,"dc":"g"},
      {"i":18,"u":0.22,"uc":"g","d":-0.32,"dc":"r"},{"i":19,"u":0.29,"uc":"g","d":-0.285,"dc":"r"},
      {"i":20,"u":0.31,"uc":"g","d":-0.32,"dc":"g"},{"i":21,"u":0.29,"uc":"r","d":-0.376,"dc":"g"},
      {"i":22,"u":0.31,"uc":"g","d":-0.376,"dc":"r"},{"i":23,"u":0.346,"uc":"g","d":-0.34,"dc":"r"},
      {"i":24,"u":0.38,"uc":"g","d":-0.3,"dc":"r"},{"i":25,"u":0.38,"uc":"r","d":-0.3,"dc":"r"},
      {"i":26,"u":0.364,"uc":"r","d":-0.3,"dc":"g"},{"i":27,"u":0.364,"uc":"r","d":-0.285,"dc":"r"},
      {"i":28,"u":0.38,"uc":"g","d":-0.267,"dc":"r"},{"i":29,"u":0.38,"uc":"g","d":-0.194,"dc":"r"},
      {"i":30,"u":0.346,"uc":"r","d":-0.067,"dc":"g"},{"i":31,"u":0.33,"uc":"r","d":-0.067,"dc":"r"},
      {"i":32,"u":0.237,"uc":"r","d":-0.1,"dc":"g"},{"i":33,"u":0.22,"uc":"r","d":-0.14,"dc":"g"},
      {"i":34,"u":0.22,"uc":"g","d":-0.158,"dc":"g"},{"i":35,"u":0.237,"uc":"g","d":-0.23,"dc":"g"},
      {"i":36,"u":0.27,"uc":"g","d":-0.25,"dc":"g"},{"i":37,"u":0.31,"uc":"g","d":-0.267,"dc":"g"},
      {"i":38,"u":0.346,"uc":"g","d":-0.21,"dc":"r"},{"i":39,"u":0.364,"uc":"g","d":-0.12,"dc":"r"},
      {"i":40,"u":0.33,"uc":"r","d":-0.23,"dc":"g"},{"i":41,"u":0.29,"uc":"r","d":-0.485,"dc":"g"},
      {"i":42,"u":0.33,"uc":"g","d":-0.595,"dc":"g"},{"i":43,"u":0.47,"uc":"g","d":-0.576,"dc":"r"},
      {"i":44,"u":0.6,"uc":"g","d":-0.54,"dc":"r"},{"i":45,"u":0.67,"uc":"g","d":-0.5,"dc":"r"},
      {"i":46,"u":0.655,"uc":"r","d":-0.45,"dc":"r"},{"i":47,"u":0.64,"uc":"r","d":-0.45,"dc":"g"},
      {"i":48,"u":0.6,"uc":"r","d":-0.45,"dc":"r"},{"i":49,"u":0.6,"uc":"r","d":-0.39,"dc":"r"},
      {"i":50,"u":0.6,"uc":"r","d":-0.376,"dc":"r"},{"i":51,"u":0.58,"uc":"r","d":-0.43,"dc":"g"},
      {"i":52,"u":0.564,"uc":"r","d":-0.5,"dc":"g"},{"i":53,"u":0.6,"uc":"r","d":-0.43,"dc":"r"},
      {"i":54,"u":0.655,"uc":"g","d":-0.285,"dc":"r"},{"i":55,"u":0.655,"uc":"r","d":-0.25,"dc":"r"},
      {"i":56,"u":0.564,"uc":"r","d":-0.285,"dc":"g"},{"i":57,"u":0.51,"uc":"r","d":-0.176,"dc":"r"},
      {"i":58,"u":0.49,"uc":"r","d":-0.03,"dc":"r"},{"i":59,"u":0.437,"uc":"r","d":-0.067,"dc":"g"},
      {"i":60,"u":0.346,"uc":"r","d":-0.158,"dc":"g"},{"i":61,"u":0.22,"uc":"r","d":-0.23,"dc":"g"},
      {"i":62,"u":0.127,"uc":"r","d":-0.3,"dc":"g"},{"i":63,"u":0.036,"uc":"r","d":-0.34,"dc":"g"},
      {"i":64,"u":0.055,"uc":"g","d":-0.12,"dc":"r"},{"i":65,"u":0.11,"uc":"g","d":-0.085,"dc":"r"},
      {"i":66,"u":0.018,"uc":"r","d":-0.12,"dc":"g"},{"i":67,"u":0.11,"uc":"g","d":-0.1,"dc":"r"},
      {"i":68,"u":0.22,"uc":"g","d":-0.085,"dc":"r"},{"i":69,"u":0.2,"uc":"r","d":-0.14,"dc":"g"},
      {"i":70,"u":0.18,"uc":"r","d":-0.158,"dc":"g"},{"i":71,"u":0.2,"uc":"g","d":-0.176,"dc":"g"},
      {"i":72,"u":0.22,"uc":"g","d":-0.194,"dc":"g"},{"i":73,"u":0.237,"uc":"g","d":-0.21,"dc":"g"},
      {"i":74,"u":0.255,"uc":"g","d":-0.3,"dc":"g"},{"i":75,"u":0.27,"uc":"g","d":-0.34,"dc":"g"},
      {"i":76,"u":0.33,"uc":"g","d":-0.376,"dc":"g"},{"i":77,"u":0.364,"uc":"g","d":-0.39,"dc":"g"},
      {"i":78,"u":0.437,"uc":"g","d":-0.34,"dc":"r"},{"i":79,"u":0.455,"uc":"g","d":-0.285,"dc":"r"},
      {"i":80,"u":0.437,"uc":"r","d":-0.1,"dc":"r"},{"i":81,"u":0.42,"uc":"r","d":-0.176,"dc":"r"},
      {"i":82,"u":0.33,"uc":"r","d":-0.158,"dc":"g"},{"i":83,"u":0.27,"uc":"r","d":-0.21,"dc":"g"},
      {"i":84,"u":0.27,"uc":"r","d":-0.21,"dc":"g"},{"i":85,"u":0.31,"uc":"g","d":-0.23,"dc":"g"},
      {"i":86,"u":0.346,"uc":"g","d":-0.25,"dc":"g"},{"i":87,"u":0.346,"uc":"g","d":-0.194,"dc":"r"},
      {"i":88,"u":0.364,"uc":"g","d":-0.158,"dc":"g"},{"i":89,"u":0.346,"uc":"r","d":-0.158,"dc":"g"},
      {"i":90,"u":0.31,"uc":"r","d":-0.12,"dc":"r"},{"i":91,"u":0.29,"uc":"r","d":-0.12,"dc":"r"},
      {"i":92,"u":0.29,"uc":"g","d":-0.1,"dc":"r"},{"i":93,"u":0.29,"uc":"r","d":-0.085,"dc":"g"},
      {"i":94,"u":0.237,"uc":"r","d":-0.158,"dc":"g"},{"i":95,"u":0.22,"uc":"r","d":-0.176,"dc":"g"},
      {"i":96,"u":0.22,"uc":"r","d":-0.158,"dc":"r"},{"i":97,"u":0.255,"uc":"g","d":-0.176,"dc":"g"},
      {"i":98,"u":0.27,"uc":"g","d":-0.176,"dc":"g"},{"i":99,"u":0.29,"uc":"g","d":-0.176,"dc":"g"},
      {"i":100,"u":0.29,"uc":"r","d":-0.176,"dc":"g"},{"i":101,"u":0.29,"uc":"g","d":-0.23,"dc":"g"},
      {"i":102,"u":0.29,"uc":"g","d":-0.3,"dc":"g"},{"i":103,"u":0.33,"uc":"g","d":-0.285,"dc":"r"},
      {"i":104,"u":0.38,"uc":"g","d":-0.12,"dc":"r"},{"i":105,"u":0.38,"uc":"g","d":-0.05,"dc":"r"},
      {"i":106,"u":0.29,"uc":"r","d":-0.1,"dc":"g"},{"i":107,"u":0.22,"uc":"r","d":-0.085,"dc":"g"},
      {"i":108,"u":0.2,"uc":"r","d":-0.012,"dc":"r"},{"i":109,"u":0.22,"uc":"g","d":-0.067,"dc":"g"},
      {"i":110,"u":0.146,"uc":"r","d":-0.12,"dc":"g"},{"i":111,"u":0.09,"uc":"r","d":-0.23,"dc":"g"},
      {"i":112,"u":0.018,"uc":"r","d":-0.32,"dc":"g"},{"i":113,"u":0.055,"uc":"g","d":-0.45,"dc":"g"},
      {"i":114,"u":0.164,"uc":"g","d":-0.39,"dc":"r"},{"i":115,"u":0.27,"uc":"g","d":-0.32,"dc":"r"},
      {"i":116,"u":0.29,"uc":"g","d":-0.34,"dc":"g"},{"i":117,"u":0.29,"uc":"r","d":-0.285,"dc":"r"},
      {"i":118,"u":0.27,"uc":"r","d":-0.23,"dc":"r"},{"i":119,"u":0.27,"uc":"r","d":-0.25,"dc":"g"},
      {"i":120,"u":0.255,"uc":"r","d":-0.376,"dc":"g"},{"i":121,"u":0.255,"uc":"r","d":-0.36,"dc":"r"},
      {"i":122,"u":0.346,"uc":"g","d":-0.05,"dc":"r"},{"i":123,"u":0.364,"uc":"g","d":-0.194,"dc":"g"},
      {"i":124,"u":0.22,"uc":"r","d":-0.21,"dc":"g"},{"i":125,"u":0.018,"uc":"r","d":-0.176,"dc":"r"},
      {"i":126,"u":0.09,"uc":"g","d":-0.12,"dc":"r"},{"i":127,"u":0.09,"uc":"r","d":-0.12,"dc":"g"},
      {"i":128,"u":0.055,"uc":"r","d":-0.14,"dc":"g"},{"i":129,"u":0.055,"uc":"r","d":-0.14,"dc":"r"},
      {"i":130,"u":0.073,"uc":"g","d":-0.194,"dc":"g"},{"i":131,"u":0.09,"uc":"g","d":-0.25,"dc":"g"},
      {"i":132,"u":0.127,"uc":"g","d":-0.23,"dc":"r"},{"i":133,"u":0.164,"uc":"g","d":-0.176,"dc":"r"},
      {"i":134,"u":0.2,"uc":"g","d":-0.14,"dc":"r"},{"i":135,"u":0.18,"uc":"r","d":-0.067,"dc":"r"},
      {"i":136,"u":0.164,"uc":"r","d":-0.03,"dc":"r"},{"i":137,"u":0.11,"uc":"r","d":-0.085,"dc":"g"},
      {"i":138,"u":0.036,"uc":"r","d":-0.158,"dc":"g"},{"i":139,"u":0.018,"uc":"r","d":-0.25,"dc":"g"},
      {"i":140,"u":0.09,"uc":"g","d":-0.267,"dc":"g"},{"i":141,"u":0.164,"uc":"g","d":-0.21,"dc":"r"},
      {"i":142,"u":0.2,"uc":"g"},{"i":143,"u":0.189,"uc":"r"}
    ]
  },
  "vconcat": [
    {
      "width": 1237,
      "height": 484,
      "resolve": {"axis": {"x": "independent", "y": "independent"}},
      "layer": [
        {
          "data": {"name": "bars"},
          "mark": {"type": "rule", "color": "black", "strokeWidth": 1},
          "encoding": {
            "x": {"field": "i", "type": "quantitative", "scale": {"domain": [-0.29, 154.3], "nice": false, "zero": false},
              "axis": {"values": [0,4,8,12,16,20,24,28,32,36,40,44,48,52,56,60,64,68,72,76,80,84,88,92,96,100,104,108,112,116,120,124,128,132,136,140,144,148,152],
                "grid": true, "labels": false, "ticks": false, "domain": false, "title": null}},
            "y": {"field": "l", "type": "quantitative", "scale": {"domain": [70.802, 76.306], "nice": false, "zero": false},
              "axis": {"orient": "right", "values": [71.2,71.6,72.0,72.4,72.8,73.2,73.6,74.0,74.4,74.8,75.2,75.6,76.0], "format": ".2f",
                "grid": true, "domain": false, "tickSize": 4, "labelPadding": 2, "title": null}},
            "y2": {"field": "h"}
          }
        },
        {
          "data": {"values": [{}]},
          "mark": {"type": "rule", "color": "#b00000", "strokeWidth": 1},
          "encoding": {
            "y": {"datum": 74.6, "type": "quantitative", "scale": {"domain": [70.802, 76.306], "nice": false, "zero": false}, "axis": null}
          }
        },
        {
          "data": {"name": "bars"},
          "mark": {"type": "bar", "orient": "vertical", "width": 4, "stroke": "black", "strokeWidth": 1},
          "encoding": {
            "x": {"field": "i", "type": "quantitative", "scale": {"domain": [-0.29, 154.3], "nice": false, "zero": false}, "axis": null},
            "y": {"field": "o", "type": "quantitative", "scale": {"domain": [70.802, 76.306], "nice": false, "zero": false}, "axis": null},
            "y2": {"field": "c"},
            "fill": {"condition": {"test": "datum.c >= datum.o", "value": "white"}, "value": "black"}
          }
        },
        {
          "data": {"name": "lines"},
          "mark": {"type": "line", "strokeWidth": 2, "clip": true},
          "encoding": {
            "x": {"field": "i", "type": "quantitative", "scale": {"domain": [-0.29, 154.3], "nice": false, "zero": false}, "axis": null},
            "y": {"field": "v", "type": "quantitative", "scale": {"domain": [70.802, 76.306], "nice": false, "zero": false}, "axis": null},
            "color": {"field": "s", "type": "nominal", "scale": {"domain": ["jaw", "teeth", "lips"], "range": ["#1046d6", "#f01010", "#3cc83c"]}, "legend": null}
          }
        },
        {
          "data": {"name": "bars"},
          "transform": [{"filter": "datum.f == 'u'"}],
          "mark": {"type": "point", "shape": "M0,-0.85L1,0.85L0,0.35L-1,0.85Z", "filled": true, "fill": "#1c1c30", "opacity": 1, "size": 144, "yOffset": -9},
          "encoding": {
            "x": {"field": "i", "type": "quantitative", "scale": {"domain": [-0.29, 154.3], "nice": false, "zero": false}, "axis": null},
            "y": {"field": "h", "type": "quantitative", "scale": {"domain": [70.802, 76.306], "nice": false, "zero": false}, "axis": null}
          }
        },
        {
          "data": {"name": "bars"},
          "transform": [{"filter": "datum.f == 'd'"}],
          "mark": {"type": "point", "shape": "M0,0.85L1,-0.85L0,-0.35L-1,-0.85Z", "filled": true, "fill": "#1c1c30", "opacity": 1, "size": 144, "yOffset": 9},
          "encoding": {
            "x": {"field": "i", "type": "quantitative", "scale": {"domain": [-0.29, 154.3], "nice": false, "zero": false}, "axis": null},
            "y": {"field": "l", "type": "quantitative", "scale": {"domain": [70.802, 76.306], "nice": false, "zero": false}, "axis": null}
          }
        },
        {
          "data": {"values": [{}]},
          "mark": {"type": "point", "shape": "M-1,-0.385H1V0.385H-1Z", "filled": true, "fill": "#c80000", "opacity": 1, "size": 676},
          "encoding": {
            "x": {"datum": 156.34, "type": "quantitative", "scale": {"domain": [-0.29, 154.3], "nice": false, "zero": false}, "axis": null},
            "y": {"datum": 74.6, "type": "quantitative", "scale": {"domain": [70.802, 76.306], "nice": false, "zero": false}, "axis": null}
          }
        },
        {
          "data": {"values": [{}]},
          "mark": {"type": "text", "text": "74.60", "color": "white", "font": "DejaVu Sans", "fontSize": 8.5, "align": "center", "baseline": "middle"},
          "encoding": {
            "x": {"datum": 156.34, "type": "quantitative", "scale": {"domain": [-0.29, 154.3], "nice": false, "zero": false}, "axis": null},
            "y": {"datum": 74.6, "type": "quantitative", "scale": {"domain": [70.802, 76.306], "nice": false, "zero": false}, "axis": null}
          }
        }
      ]
    },
    {
      "width": 1237,
      "height": 103,
      "resolve": {"axis": {"x": "independent", "y": "independent"}},
      "layer": [
        {
          "data": {"values": [{}]},
          "mark": {"type": "rule", "color": "#c4b6c4", "strokeDash": [3, 3]},
          "encoding": {
            "y": {"datum": 0, "type": "quantitative", "scale": {"domain": [-1.068, 1.6], "nice": false, "zero": false}, "axis": null}
          }
        },
        {
          "data": {"name": "ao"},
          "mark": {"type": "bar", "orient": "vertical", "width": 4},
          "encoding": {
            "x": {"field": "i", "type": "quantitative", "scale": {"domain": [-0.29, 154.3], "nice": false, "zero": false},
              "axis": {"values": [0,4,8,12,16,20,24,28,32,36,40,44,48,52,56,60,64,68,72,76,80,84,88,92,96,100,104,108,112,116,120,124,128,132,136,140,144,148,152],
                "grid": true, "labels": false, "ticks": false, "domain": false, "title": null}},
            "y": {"field": "v", "type": "quantitative", "scale": {"domain": [-1.068, 1.6], "nice": false, "zero": false},
              "axis": {"orient": "right", "values": [-1.068, 0, 1.6], "format": ".3f", "grid": false, "domain": false, "tickSize": 4, "labelPadding": 2, "labelFlush": true, "title": null}},
            "y2": {"datum": 0},
            "color": {"field": "c", "type": "nominal", "scale": {"domain": ["g", "r"], "range": ["#008000", "#ff0000"]}, "legend": null}
          }
        },
        {
          "data": {"values": [{}]},
          "mark": {"type": "text", "text": "AO -0.315", "color": "black", "font": "DejaVu Sans", "fontSize": 8.5, "align": "left", "baseline": "alphabetic", "dx": 6, "dy": 13.5},
          "encoding": {
            "x": {"datum": -0.29, "type": "quantitative", "scale": {"domain": [-0.29, 154.3], "nice": false, "zero": false}, "axis": null},
            "y": {"datum": 1.6, "type": "quantitative", "scale": {"domain": [-1.068, 1.6], "nice": false, "zero": false}, "axis": null}
          }
        }
      ]
    },
    {
      "width": 1237,
      "height": 101,
      "resolve": {"axis": {"x": "independent", "y": "independent"}},
      "layer": [
        {
          "data": {"values": [{}]},
          "mark": {"type": "rule", "color": "#c4b6c4", "strokeDash": [3, 3]},
          "encoding": {
            "y": {"datum": 0, "type": "quantitative", "scale": {"domain": [-0.5321, 0.541], "nice": false, "zero": false}, "axis": null}
          }
        },
        {
          "data": {"name": "ac"},
          "mark": {"type": "bar", "orient": "vertical", "width": 4},
          "encoding": {
            "x": {"field": "i", "type": "quantitative", "scale": {"domain": [-0.29, 154.3], "nice": false, "zero": false},
              "axis": {"values": [0,4,8,12,16,20,24,28,32,36,40,44,48,52,56,60,64,68,72,76,80,84,88,92,96,100,104,108,112,116,120,124,128,132,136,140,144,148,152],
                "grid": true, "labels": false, "ticks": false, "domain": false, "title": null}},
            "y": {"field": "v", "type": "quantitative", "scale": {"domain": [-0.5321, 0.541], "nice": false, "zero": false},
              "axis": {"orient": "right", "values": [-0.5321, 0, 0.541], "format": ".4f", "grid": false, "domain": false, "tickSize": 4, "labelPadding": 2, "labelFlush": true, "title": null}},
            "y2": {"datum": 0},
            "color": {"field": "c", "type": "nominal", "scale": {"domain": ["g", "r"], "range": ["#008000", "#ff0000"]}, "legend": null}
          }
        },
        {
          "data": {"values": [{}]},
          "mark": {"type": "text", "text": "AC -0.1671", "color": "black", "font": "DejaVu Sans", "fontSize": 8.5, "align": "left", "baseline": "alphabetic", "dx": 6, "dy": 13},
          "encoding": {
            "x": {"datum": -0.29, "type": "quantitative", "scale": {"domain": [-0.29, 154.3], "nice": false, "zero": false}, "axis": null},
            "y": {"datum": 0.541, "type": "quantitative", "scale": {"domain": [-0.5321, 0.541], "nice": false, "zero": false}, "axis": null}
          }
        }
      ]
    },
    {
      "width": 1237,
      "height": 84,
      "resolve": {"axis": {"x": "independent", "y": "independent"}},
      "layer": [
        {
          "data": {"values": [{}]},
          "mark": {"type": "rule", "color": "#c4b6c4", "strokeDash": [3, 3]},
          "encoding": {
            "y": {"datum": 0, "type": "quantitative", "scale": {"domain": [-0.71, 0.783], "nice": false, "zero": false}, "axis": null}
          }
        },
        {
          "data": {"name": "gator"},
          "mark": {"type": "bar", "orient": "vertical", "width": 4},
          "encoding": {
            "x": {"field": "i", "type": "quantitative", "scale": {"domain": [-0.29, 154.3], "nice": false, "zero": false},
              "axis": {"orient": "bottom", "values": [0,8,16,24,32,40,48,56,64,72,80,88,96,104,112,120,128,136],
                "grid": false, "domain": false, "title": null, "labelOverlap": false, "labelFlush": false, "labelBound": false,
                "labelAlign": "left", "labelBaseline": "top", "labelPadding": 1, "tickSize": 4,
                "labelExpr": "datum.value == 0 ? '30 Oct 2024' : datum.value == 8 ? '30 Oct 12:00' : datum.value == 16 ? '30 Oct 20:00' : datum.value == 24 ? '31 Oct 07:00' : datum.value == 32 ? '31 Oct 15:00' : datum.value == 40 ? '1 Nov 02:00' : datum.value == 48 ? '1 Nov 10:00' : datum.value == 56 ? '1 Nov 18:00' : datum.value == 64 ? '4 Nov 04:00' : datum.value == 72 ? '4 Nov 12:00' : datum.value == 80 ? '4 Nov 20:00' : datum.value == 88 ? '5 Nov 07:00' : datum.value == 96 ? '5 Nov 15:00' : datum.value == 104 ? '5 Nov 23:00' : datum.value == 112 ? '6 Nov 10:00' : datum.value == 120 ? '6 Nov 18:00' : datum.value == 128 ? '7 Nov 05:00' : '7 Nov 13:00'"}},
            "y": {"field": "u", "type": "quantitative", "scale": {"domain": [-0.71, 0.783], "nice": false, "zero": false},
              "axis": {"orient": "right", "values": [-0.71, 0, 0.783], "format": ".3f", "grid": false, "domain": false, "tickSize": 4, "labelPadding": 2, "labelFlush": true, "title": null}},
            "y2": {"datum": 0},
            "color": {"field": "uc", "type": "nominal", "scale": {"domain": ["g", "r"], "range": ["#008000", "#ff0000"]}, "legend": null}
          }
        },
        {
          "data": {"name": "gator"},
          "transform": [{"filter": "isValid(datum.d)"}],
          "mark": {"type": "bar", "orient": "vertical", "width": 4},
          "encoding": {
            "x": {"field": "i", "type": "quantitative", "scale": {"domain": [-0.29, 154.3], "nice": false, "zero": false},
              "axis": {"orient": "top", "values": [0,4,8,12,16,20,24,28,32,36,40,44,48,52,56,60,64,68,72,76,80,84,88,92,96,100,104,108,112,116,120,124,128,132,136,140,144,148,152],
                "grid": true, "labels": false, "ticks": false, "domain": false, "title": null}},
            "y": {"field": "d", "type": "quantitative", "scale": {"domain": [-0.71, 0.783], "nice": false, "zero": false}, "axis": null},
            "y2": {"datum": 0},
            "color": {"field": "dc", "type": "nominal", "scale": {"domain": ["g", "r"], "range": ["#008000", "#ff0000"]}, "legend": null}
          }
        },
        {
          "data": {"values": [{}]},
          "mark": {"type": "text", "text": "Gator(13,8,5) 0.189 0.000", "color": "black", "font": "DejaVu Sans", "fontSize": 8.5, "align": "left", "baseline": "alphabetic", "dx": 6, "dy": 12.5},
          "encoding": {
            "x": {"datum": -0.29, "type": "quantitative", "scale": {"domain": [-0.29, 154.3], "nice": false, "zero": false}, "axis": null},
            "y": {"datum": 0.783, "type": "quantitative", "scale": {"domain": [-0.71, 0.783], "nice": false, "zero": false}, "axis": null}
          }
        }
      ]
    }
  ],
  "config": {
    "view": {"stroke": "black", "strokeWidth": 1},
    "axis": {"labelFont": "DejaVu Sans", "labelFontSize": 8.5, "labelColor": "black", "tickColor": "black", "gridColor": "#c4b6c4", "gridDash": [3, 3], "gridWidth": 1},
    "text": {"font": "DejaVu Sans"}
  }
}
